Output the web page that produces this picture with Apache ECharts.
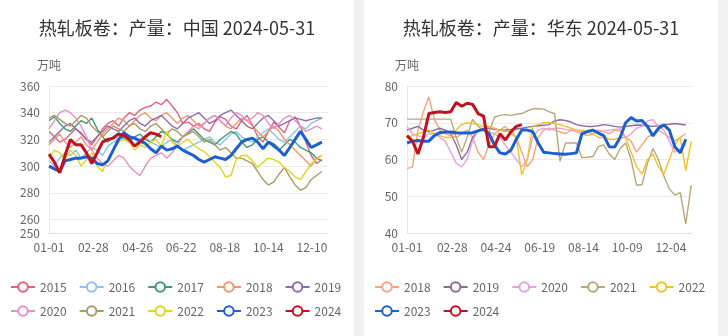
<!DOCTYPE html>
<html>
<head>
<meta charset="utf-8">
<script src="https://cdn.jsdelivr.net/npm/echarts/dist/echarts.min.js"></script>
<style>
  html, body { margin: 0; padding: 0; width: 728px; height: 336px; overflow: hidden; background: #f1f1f1; }
  .card { position: absolute; top: 0; width: 354px; height: 336px; background: #fff; }
  #cn { left: 0; }
  #east { left: 364px; }
</style>
</head>
<body>
<div id="cn" class="card"></div>
<div id="east" class="card"></div>
<script>
// Calendar categories (MM-DD) for a leap year; weekly readings sit on every 7th day.
const days = [];
for (let d = new Date(Date.UTC(2024, 0, 1)); d.getUTCFullYear() === 2024; d.setUTCDate(d.getUTCDate() + 1)) {
  days.push(String(d.getUTCMonth() + 1).padStart(2, '0') + '-' + String(d.getUTCDate()).padStart(2, '0'));
}

// Tick labels shown on each x axis
const cnTicks = ['01-01', '02-28', '04-26', '06-22', '08-18', '10-14', '12-10'];
const eastTicks = ['01-01', '02-28', '04-24', '06-19', '08-14', '10-09', '12-04'];

// 热轧板卷周产量：中国（万吨）
const cnYears = ['2015', '2016', '2017', '2018', '2019', '2020', '2021', '2022', '2023', '2024'];
const cn2015 = [326,322,318,320,324,328,325,320,316,322,328,332,334,330,336,340,338,342,344,345,348,346,350,345,340,332,333,330,332,328,326,333,337,335,330,328,334,338,331,322,318,326,333,329,325,334,337,330,318,308,302,305];
const cn2016 = [304,300,306,310,308,312,306,310,314,312,308,315,318,320,322,318,316,320,322,318,316,314,318,320,315,312,314,316,318,320,322,318,316,320,324,326,322,320,318,322,325,328,324,320,318,322,326,330,328,332,334,336];
const cn2017 = [334,337,332,328,326,330,334,332,336,328,322,318,322,325,320,318,322,324,320,318,322,326,324,320,318,322,325,328,324,320,318,316,320,323,326,324,318,314,316,320,322,318,314,312,316,320,318,314,312,310,306,304];
const cn2018 = [316,320,324,318,314,318,322,316,312,318,324,328,332,336,334,330,334,338,340,336,334,338,340,336,332,336,338,334,330,332,336,338,334,330,328,332,336,334,330,326,322,326,330,326,320,316,312,308,304,300,306,308];
const cn2019 = [318,322,326,330,332,328,324,320,318,322,326,330,328,326,330,334,336,332,330,334,336,338,334,330,328,332,336,338,340,336,332,334,338,340,342,338,334,330,328,332,336,338,334,330,332,334,336,335,334,335,336,336];
const cn2020 = [328,334,340,342,340,336,330,322,312,306,302,300,304,308,306,300,296,293,300,306,308,310,306,310,316,322,326,330,328,332,336,338,334,330,336,340,338,334,336,340,338,332,328,332,336,338,334,330,326,328,330,328];
const cn2021 = [336,338,335,332,330,334,338,336,330,326,322,326,330,328,326,330,332,328,326,330,332,328,324,328,326,322,324,326,322,318,320,316,312,314,310,306,306,304,302,296,290,286,288,294,299,292,286,282,284,290,293,296];
const cn2022 = [306,312,310,305,312,308,300,305,310,300,296,305,312,318,320,318,312,316,314,318,320,315,326,318,314,318,320,316,313,311,307,303,299,292,293,305,308,308,304,299,303,306,305,303,299,296,292,290,296,302,305,308];
const cn2023 = [300,298,296,304,305,306,306,307,306,302,301,304,312,320,325,322,321,319,317,313,310,315,312,313,315,312,310,308,305,303,305,307,306,305,308,313,318,320,321,318,313,318,316,312,308,314,320,326,320,314,316,318];
const cn2024 = [309,303,295,308,320,316,316,310,302,310,318,320,321,324,323,320,315,318,322,325,324,322];
const cnColors = ['#e8607e', '#8ec3ea', '#3c9c6e', '#f3956f', '#8d6db0', '#ea8fc5', '#ab9b64', '#e4d41c', '#1c5fcf', '#c3101f'];

// 热轧板卷周产量：华东（万吨）
const eastYears = ['2018', '2019', '2020', '2021', '2022', '2023', '2024'];
const east2018 = [57.5,58,68,73,77,71,68,67,66.5,66,67,68,66,62,60,64,67,68,69,67,66,62,58,60,66,68,68.5,68,67.5,67,68,67.5,67,66.5,67,68,67.5,67,68,67.8,66,65,62,64,66,67,68,67,66,65,66,67];
const east2019 = [68,68.5,69,68,67.5,68,68.5,68,67,64,60,62,66,68,68.5,68.5,68.2,68,68,68.2,68.3,68.5,68.8,69,69.2,69.3,69.5,70.5,70.8,70.6,70.2,69.5,69.2,69,69,69.2,69.5,69.3,69,68.8,69,69.2,69.4,69.3,69.2,69,69.2,69.5,69.6,69.8,69.6,69.4];
const east2020 = [69,67,66.5,66,67,67,66,65,62,59,58,60,65,68,68,67.5,67,66,64,62,60,58,60,66,68,68.5,68,68.5,68.5,68.2,68,68,67.5,67.8,68,67.5,67.8,68,68.2,68.4,66,67,68.5,69,70.5,70.8,69,68,65,62,63,64];
const east2021 = [71,71,71,71,71,71,71,71,71,66,62,66,71,69,68,67.5,71.5,72,72.2,72,72.3,72.5,73.2,73.8,73.8,73.7,73,72.5,59.5,64.5,64.5,64.5,60.5,60.6,60.8,63.5,64,61.5,60,63,64.5,60,53,53.2,59,63,60,55.5,52,50.3,51,42.5,53];
const east2022 = [66,66.5,67,67.5,68,67,66.5,66,66,68,69.5,70,69.8,69.5,69,69,68.5,68,67.5,68,66,55.8,60,69,69.5,70,70,69.8,69.5,69,68.5,68,68,67.5,67,66,66,65.5,65.5,66,66,62,58,56,60,61.5,58,56,60,64,66,57,65];
const east2023 = [64.5,65,65.2,65,65,66.5,67.3,67.5,67.5,67.3,67.2,67.2,67.3,67.8,68.2,67,64,61.8,61.5,62.5,65.5,68,68,67.6,64.5,62,61.8,61.6,61.5,61.4,61.6,61.8,67,67.6,68,67.2,66.5,63.5,63.4,66,70,71.4,70.5,70.6,69,66.4,68.5,69.4,68,63.5,61.8,65.5];
const east2024 = [66.5,65,61.5,66,72.5,72.8,73,72.8,73,75.5,74.5,75.3,75,72.5,71.8,63.5,63.5,67,65.3,67.5,69,69.5];
const eastColors = ['#f5a57f', '#8a6b9c', '#e6a3e2', '#b8a77a', '#f0c22a', '#1c5fcf', '#c3101f'];

const FONT = '"Noto Sans CJK SC", "Noto Sans", sans-serif';

function weekly(values) {
  return values.map((v, i) => [days[i * 7], v]);
}

function buildOption(title, ticks, years, seriesValues, colors, yAxisExtra, gridLeft) {
  return {
    animation: false,
    textStyle: { fontFamily: FONT },
    title: {
      text: title, left: 'center', top: 14,
      textStyle: { fontSize: 18, fontWeight: 'normal', color: '#333', fontFamily: FONT }
    },
    legend: {
      data: years, left: 5, top: 276, itemWidth: 24, itemHeight: 12, itemGap: 12,
      padding: [5, 5, 5, 5],
      textStyle: { fontSize: 12, color: '#666', fontFamily: FONT }
    },
    grid: { left: gridLeft, right: 26, top: 86, bottom: 103 },
    xAxis: {
      type: 'category', data: days, boundaryGap: false,
      axisLine: { lineStyle: { color: '#e3e3e3' } },
      axisTick: { show: false },
      axisLabel: {
        interval: (idx, val) => ticks.includes(val),
        color: '#666', fontSize: 12, margin: 8, fontFamily: FONT
      }
    },
    yAxis: Object.assign({
      type: 'value', name: '万吨',
      nameTextStyle: { color: '#666', fontSize: 12, fontFamily: FONT },
      axisLine: { show: true, lineStyle: { color: '#e8e8e8' } },
      axisTick: { show: false },
      axisLabel: { color: '#666', fontSize: 12, margin: 9, fontFamily: FONT },
      splitLine: { lineStyle: { color: '#ebebeb' } }
    }, yAxisExtra),
    series: years.map((y, i) => {
      const bold = y === '2023' || y === '2024';
      return {
        name: y, type: 'line', data: weekly(seriesValues[i]),
        showSymbol: false, symbol: 'emptyCircle', symbolSize: 8,
        color: colors[i],
        lineStyle: { width: bold ? 3 : 1.4, color: colors[i] },
        emphasis: { disabled: true }
      };
    })
  };
}

echarts.init(document.getElementById('cn')).setOption(
  buildOption('热轧板卷：产量：中国 2024-05-31', cnTicks, cnYears,
    [cn2015, cn2016, cn2017, cn2018, cn2019, cn2020, cn2021, cn2022, cn2023, cn2024],
    cnColors, { min: 250, max: 360 }, 49));

echarts.init(document.getElementById('east')).setOption(
  buildOption('热轧板卷：产量：华东 2024-05-31', eastTicks, eastYears,
    [east2018, east2019, east2020, east2021, east2022, east2023, east2024],
    eastColors, { min: 40, max: 80, interval: 10 }, 43));
</script>
</body>
</html>
